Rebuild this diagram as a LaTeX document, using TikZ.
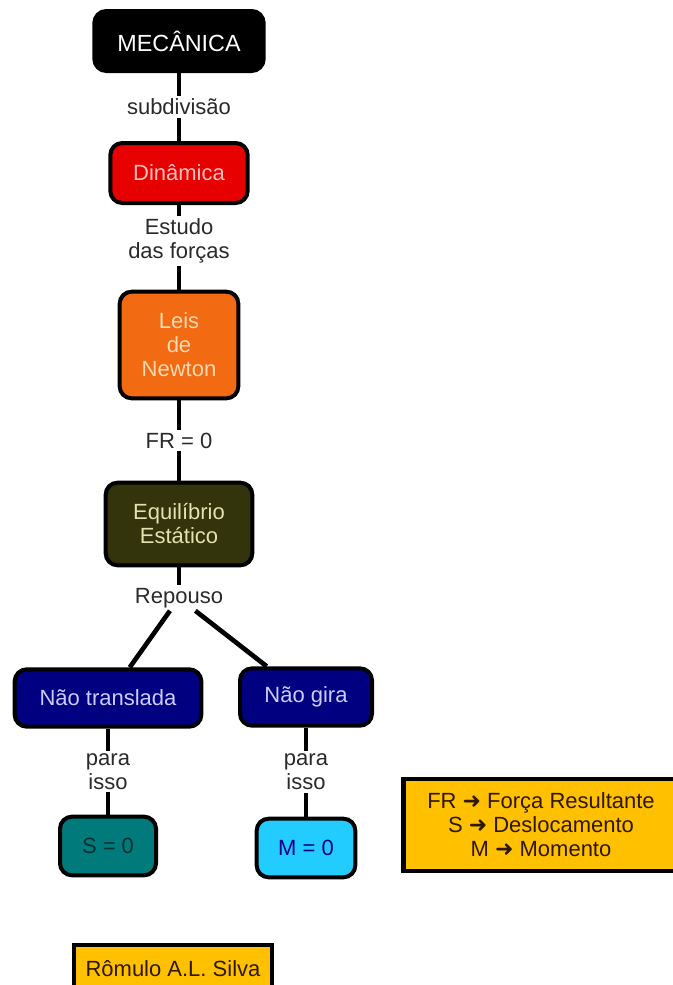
\documentclass[tikz,border=0pt]{standalone}
\usepackage{fontspec}
\setmainfont{Liberation Sans}
\newfontfamily\setafont{DejaVu Sans}

\definecolor{vermelho}{HTML}{E60000}
\definecolor{laranja}{HTML}{F26A12}
\definecolor{oliva}{HTML}{33330C}
\definecolor{marinho}{HTML}{000080}
\definecolor{petroleo}{HTML}{007A7A}
\definecolor{celeste}{HTML}{22CCFF}
\definecolor{ouro}{HTML}{FFC000}
\definecolor{cinza}{HTML}{2A2A2A}
\definecolor{marrom}{HTML}{2E1800}
\definecolor{palha}{HTML}{E2E2B0}

\begin{document}
\begin{tikzpicture}[
    x=0.75pt,
    y=-0.75pt,
    font=\fontsize{16.5}{18}\selectfont,
    caixa/.style={
        draw=black,
        line width=3pt,
        rounded corners=9pt,
        align=center,
        inner sep=2pt,},
    quadro/.style={
        draw=black,
        line width=3.5pt,
        fill=ouro,
        text=marrom,
        align=center,},
    lig/.style={
        line width=3.5pt,},
    rot/.style={
        fill=white,
        text=cinza,
        align=center,
        inner sep=2pt,}
]

\useasboundingbox (0,0) rectangle (673,985);
\clip (0,0) rectangle (673,985);

\node[caixa,fill=black,text=white,minimum width=127pt,minimum height=45pt,font=\fontsize{17.5}{19}\selectfont] (mec) at (179,41) {MECÂNICA};
\node[caixa,fill=vermelho,text=red!25,minimum width=103pt,minimum height=45pt] (din) at (179,173) {Dinâmica};
\node[caixa,fill=laranja,text=orange!30,minimum width=89pt,minimum height=80pt] (leis) at (179,345) {Leis\\de\\Newton};
\node[caixa,fill=oliva,text=palha,minimum width=110pt,minimum height=62pt] (equi) at (179,524) {Equilíbrio\\Estático};
\node[rot] (rep) at (179,598) {Repouso};
\node[caixa,fill=marinho,text=blue!20!white,minimum width=140pt,minimum height=43pt] (ntr) at (108,698) {Não translada};
\node[caixa,fill=marinho,text=blue!20!white,minimum width=99pt,minimum height=43pt] (ngi) at (306,697) {Não gira};
\node[caixa,fill=petroleo,text=petroleo!40!black,minimum width=72pt,minimum height=44pt] (szero) at (108,846) {S = 0};
\node[caixa,fill=celeste,text=blue!55!black,minimum width=74pt,minimum height=44pt] (mzero) at (306,848) {M = 0};

\node[quadro,minimum width=206pt,minimum height=69pt] (leg) at (541,825) {FR {\setafont ➜} Força Resultante\\S {\setafont ➜} Deslocamento\\M {\setafont ➜} Momento};
\node[quadro,line width=3pt,minimum width=148pt,minimum height=36pt,anchor=north] (autor) at (173,943) {Rômulo A.L. Silva};

\draw[lig] (mec) -- node[rot] {subdivisão} (din);
\draw[lig] (din) -- node[rot,pos=.42] {Estudo\\das forças} (leis);
\draw[lig] (leis) -- node[rot] {FR = 0} (equi);
\draw[lig] (equi) -- (rep);
\draw[lig] (rep) -- (ntr);
\draw[lig] (rep) -- (ngi);
\draw[lig] (ntr) -- node[rot] {para\\isso} (szero);
\draw[lig] (ngi) -- node[rot] {para\\isso} (mzero);

\end{tikzpicture}
\end{document}
